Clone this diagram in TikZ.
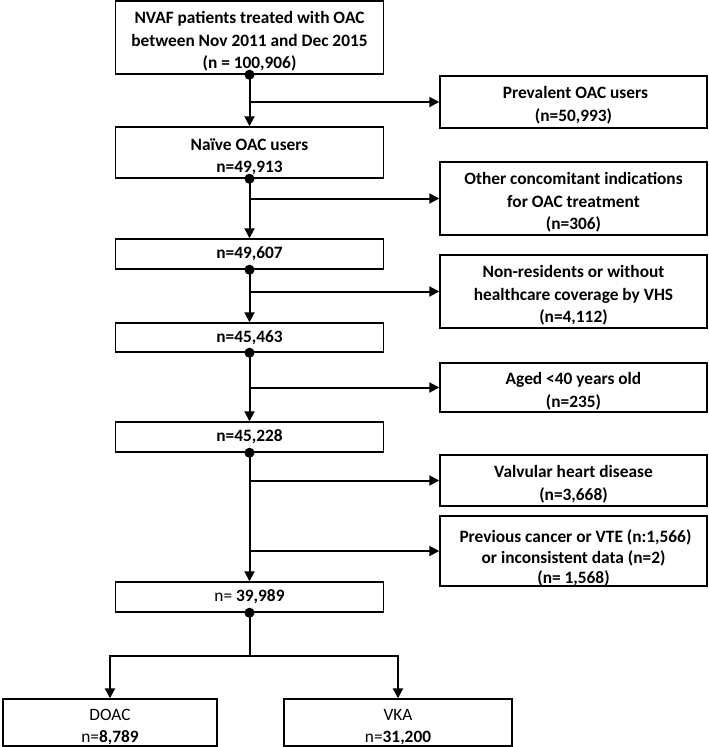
\documentclass[tikz,border=0pt]{standalone}
\usepackage{fontspec}
\setmainfont{Carlito}
\usepackage{tikz}
\usetikzlibrary{arrows.meta,calc}
\newcommand{\padTop}[1][15pt]{\rule{0pt}{#1}}
\tikzset{
  flowBox/.style={
    rectangle,
    draw=black,
    line width=1.1pt,
    inner sep=0pt,
    align=center,
    font=\fontsize{13}{16.9}\selectfont\bfseries
  },
  mainBox/.style={
    flowBox,
    minimum width=201pt
  },
  sideBox/.style={
    flowBox,
    minimum width=200.25pt
  },
  armBox/.style={
    flowBox,
    minimum height=35.25pt
  },
  arrowLine/.style={
    -{Triangle[length=7.5pt,width=7.5pt]},
    line width=1.5pt
  }
}

\begin{document}
\begin{tikzpicture}[x=0.75pt,y=-0.75pt]
        \useasboundingbox (0,0) rectangle (709,747);

        % main column
        \node[mainBox, minimum height=54.75pt] (patients) at (249.5,37.5) {\padTop NVAF patients treated with OAC\\between Nov 2011 and Dec 2015\\(n = 100,906)};
        \node[mainBox, minimum height=38.25pt] (naive) at (249.5,152.5) {\padTop Naïve OAC users\\n=49,913};
        \node[mainBox, minimum height=22.5pt] (step1) at (249.5,254) {n=49,607};
        \node[mainBox, minimum height=21.75pt] (step2) at (249.5,337.5) {n=45,463};
        \node[mainBox, minimum height=22.5pt] (step3) at (249.5,437) {n=45,228};
        \node[mainBox, minimum height=22.5pt] (cohort) at (249.5,597) {{\mdseries n=} 39,989};

        % exclusions
        \node[sideBox, minimum height=39pt] (prevalent) at (573.5,102) {\padTop[14pt] Prevalent OAC users\\(n=50,993)};
        \node[sideBox, minimum height=54.75pt] (otherInd) at (573.5,198.5) {\padTop Other concomitant indications\\for OAC treatment\\(n=306)};
        \node[sideBox, minimum height=54.75pt] (nonRes) at (573.5,291.5) {\padTop Non-residents or without\\healthcare coverage by VHS\\(n=4,112)};
        \node[sideBox, minimum height=36.75pt] (aged) at (573.5,387.5) {\padTop Aged <40 years old\\(n=235)};
        \node[sideBox, minimum height=38.25pt] (valvular) at (573.5,480.5) {\padTop Valvular heart disease\\(n=3,668)};
        \node[sideBox, minimum height=51pt, font=\fontsize{13}{15.2}\selectfont\bfseries] (cancer) at (573.5,551) {\padTop[20pt] Previous cancer or VTE (n:1,566)\\or inconsistent data (n=2)\\(n= 1,568)};

        % treatment arms
        \node[armBox, minimum width=160.5pt] (doac) at (110,722.5) {\padTop{\mdseries DOAC}\\{\mdseries n=}8,789};
        \node[armBox, minimum width=171pt] (vka) at (398,722.5) {\padTop{\mdseries VKA}\\{\mdseries n=}31,200};

        \draw[arrowLine] (patients.south) -- (naive.north);
        \draw[arrowLine] (naive.south) -- (step1.north);
        \draw[arrowLine] (step1.south) -- (step2.north);
        \draw[arrowLine] (step2.south) -- (step3.north);
        \draw[arrowLine] (step3.south) -- (cohort.north);

        \draw[arrowLine] (patients.south |- prevalent.west) -- (prevalent.west);
        \draw[arrowLine] (naive.south |- otherInd.west) -- (otherInd.west);
        \draw[arrowLine] (step1.south |- nonRes.west) -- (nonRes.west);
        \draw[arrowLine] (step2.south |- aged.west) -- (aged.west);
        \draw[arrowLine] (step3.south |- valvular.west) -- (valvular.west);
        \draw[arrowLine] (step3.south |- cancer.west) -- (cancer.west);

        \coordinate (split) at ($(cohort.south)+(0,43)$);
        \draw[line width=1.5pt] (cohort.south) -- (split);
        \draw[arrowLine] (split) -| (doac.north);
        \draw[arrowLine] (split) -| (vka.north);

        \foreach \n in {patients,naive,step1,step2,step3,cohort}
            \fill (\n.south) circle (3.8pt);
    \end{tikzpicture}
\end{document}
